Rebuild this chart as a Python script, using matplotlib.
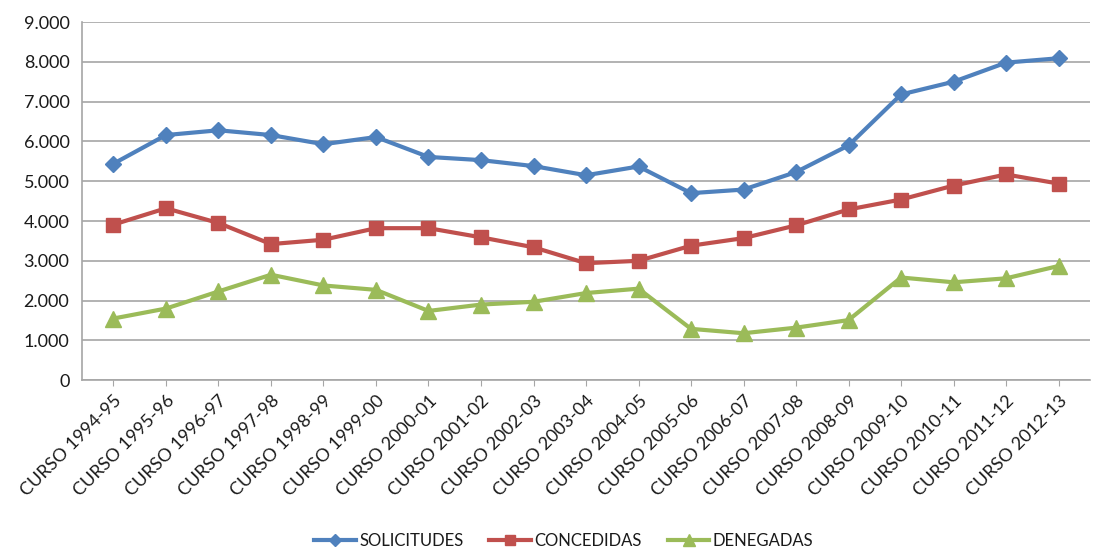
import matplotlib
matplotlib.use('Agg')
import matplotlib.pyplot as plt
from matplotlib.ticker import FuncFormatter

plt.rcParams['font.family'] = ['Lato', 'DejaVu Sans']

cursos = ['CURSO 1994-95', 'CURSO 1995-96', 'CURSO 1996-97', 'CURSO 1997-98',
          'CURSO 1998-99', 'CURSO 1999-00', 'CURSO 2000-01', 'CURSO 2001-02',
          'CURSO 2002-03', 'CURSO 2003-04', 'CURSO 2004-05', 'CURSO 2005-06',
          'CURSO 2006-07', 'CURSO 2007-08', 'CURSO 2008-09', 'CURSO 2009-10',
          'CURSO 2010-11', 'CURSO 2011-12', 'CURSO 2012-13']

solicitudes = [5440, 6160, 6280, 6160, 5930, 6110, 5610, 5530, 5380, 5150,
               5370, 4700, 4790, 5230, 5900, 7180, 7500, 7980, 8090]
concedidas = [3910, 4320, 3950, 3420, 3530, 3820, 3820, 3590, 3340, 2940,
              3000, 3380, 3570, 3890, 4290, 4540, 4890, 5170, 4940]
denegadas = [1550, 1800, 2230, 2650, 2380, 2270, 1740, 1900, 1970, 2190,
             2300, 1290, 1180, 1320, 1510, 2580, 2460, 2560, 2870]

fig = plt.figure(figsize=(10.97, 5.51), dpi=100)
ax = fig.add_axes([0.0747, 0.310, 0.919, 0.650])

x = range(len(cursos))
ax.plot(x, solicitudes, color='#4F81BD', lw=3, marker='D', ms=8, label='SOLICITUDES')
ax.plot(x, concedidas, color='#C0504D', lw=3, marker='s', ms=10, label='CONCEDIDAS')
ax.plot(x, denegadas, color='#9BBB59', lw=3, marker='^', ms=11, label='DENEGADAS')

ax.set_xlim(-0.6, len(cursos) - 0.4)
ax.set_ylim(0, 9000)
ax.set_yticks(range(0, 9001, 1000))
ax.yaxis.set_major_formatter(FuncFormatter(lambda v, p: f'{int(v):,}'.replace(',', '.')))
ax.grid(axis='y', color='#a6a6a6', lw=1.2)
ax.set_axisbelow(True)

ax.set_xticks(list(x))
ax.set_xticklabels(cursos, rotation=45, ha='right', rotation_mode='anchor',
                   fontsize=13, color='#1a1a1a')
ax.tick_params(axis='y', labelsize=13, length=0, pad=9, labelcolor='#1a1a1a')
ax.tick_params(axis='x', length=4, color='#a6a6a6', pad=5)

for s in ['top', 'right']:
    ax.spines[s].set_visible(False)
for s in ['left', 'bottom']:
    ax.spines[s].set_color('#a6a6a6')
    ax.spines[s].set_linewidth(1.2)

fig.legend(loc='center', bbox_to_anchor=(0.514, 0.018), ncol=3, frameon=False,
           fontsize=12, handlelength=2.5, handletextpad=0.2, columnspacing=1.55,
           markerscale=0.75, labelcolor='#1a1a1a')

fig.savefig('out.png', dpi=100)
